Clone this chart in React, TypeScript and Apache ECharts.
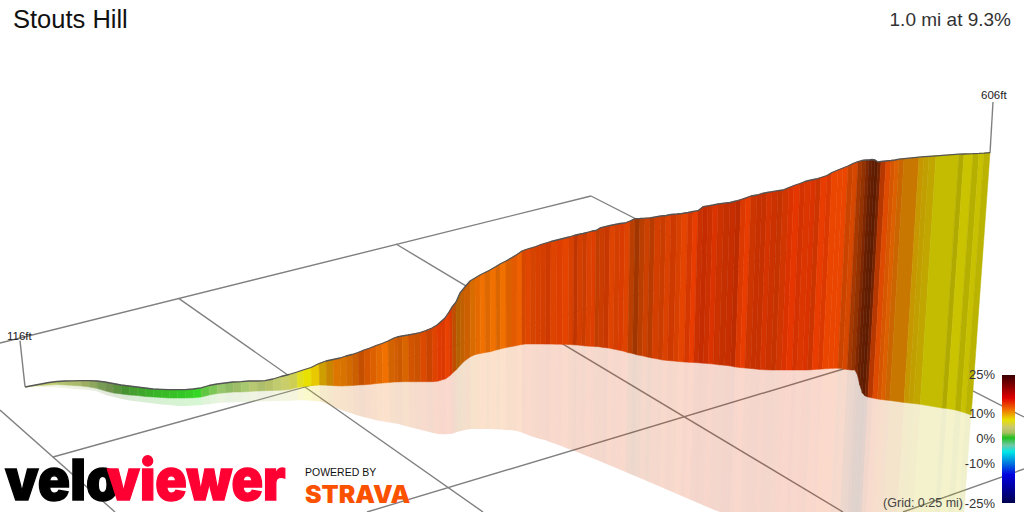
import React, { useEffect, useRef } from "react";
import * as echarts from "echarts";

const titleText = "Stouts Hill";
const summaryText = "1.0 mi at 9.3%";
const gridText = "(Grid: 0.25 mi)";
const startLabel = "116ft";
const endLabel = "606ft";
const legendLabels = ["25%", "10%", "0%", "-10%", "-25%"];

// Projected position along the climb
const stationX = [
  25,33,41,49,57,65,73,81,89,97,105,113,121,129,137,145,153,161,169,177,185,193,201,209,217,225,233,241,249,257,265,273,281,289,297,
  303,311,319,326,333,340,346,352,358,364,370,376,382,388,394,397,402,408,414,420,426,432,437,441,445,449,452,456,460,464,470,
  475,480,485,490,496,500,506,512,517,522,526,531,536,541,546,551,557,563,569,574,578,583,587,592,596,600,605,610,615,620,625,630,635,640,645,650,655,
  661,666,671,677,682,688,693,698,703,708,713,718,724,730,736,741,746,751,757,762,767,772,778,783,789,794,800,805,811,816,821,827,832,838,843,848,853,
  858,862,866,869,872,875,878,881,886,891,895,899,904,919,924,929,936,959,964,973,979,984,990,
];
const wallTop = [
  387,385.5,384,382.5,381.5,381,380.8,380.7,380.7,381,382,383.5,385,386,387,388,389,389.3,389.6,389.7,389.6,389,387.8,385.5,384,383,382,381.7,381,381,380.7,379,376.5,374.5,372,
  370,367.5,363.5,361,359.5,358,356,354.5,352.5,350,348,345.5,343.5,341,338,337,336,335,333.8,332.7,330.5,328,325,321.5,318,312,307,302,293,288,281,
  278,275,272.5,270,266.5,264,261,257.5,254.5,251,249.5,248,246.5,244.5,243,241.5,240,238.5,237,235.5,234.5,233.5,232.5,231,230.5,228,226.7,225.5,224.5,223.5,223,221,218.7,218.5,218.2,217.8,217,
  216,215.5,214.5,214,213.5,212.5,211.5,210.7,206.7,205.8,205,204,203.2,202.5,201,199.5,197.8,196,195,193.5,192.5,191.7,190.7,190,187.5,185.5,183.5,181.5,180,179,177.5,175.5,172.5,170,168,166,163.5,
  161.7,160.5,160,160,159.5,160,162,161.5,161,160.5,160,159.2,158.7,157.2,156.7,156.3,155.8,154.2,154,153.7,153.4,153.1,152.7,
];
const wallBase = [
  387,386,385.5,385,384.5,385,385.5,386,387,388.5,391,393,394,395,395.5,396.5,397,397.5,398,398,398,397.8,397,395,393.5,392.8,392,392,391.5,391,390.7,390.5,390.3,389.5,387.5,
  386.5,385.7,385,385.2,385.7,386,385.8,385.5,385,384.7,384.2,383.5,383,382.5,382,381.9,381.7,381.7,381.8,381.7,381.7,381.7,381.2,380,378.8,376,373,369.5,365,361,356.7,
  354.5,353.5,352.5,351.7,350,349,347.6,346.5,345.5,344.5,344,344,344,344,344.1,344.1,344.2,344.3,344.5,344.8,345,345.5,346,346.3,346.5,346.7,347.5,348,349,350,351,352.5,353.5,355,355.8,357,358,
  359,360,360.5,361,361.5,362,362.3,362.5,362.8,363.2,363.6,364,364.8,365.3,366,367,367.5,368,368.5,369,369.5,369.8,370,370,370,370,370,370,370,370,369.7,369.3,369,368.6,368.3,368.2,368.8,
  369.5,370,370,375,385,393,396,397,398,399,399.5,400,400.5,402.5,403,403.5,404.3,408,408.5,410,411.5,413,415,
];
const shadowEdge = [
  387,387,387,387,387.5,388,389,389.5,390,391.5,395,397,399,400.5,401.5,402.5,403.5,404.5,405,406,406,405.5,405,404,403,402.5,402.3,402,402,401.5,401.3,401,401,400.8,400.3,
  400.3,400.8,401.5,404,407,410,412,414,416,417.5,419,420.5,421.5,422.5,423.5,424,425.5,427,428.5,430,431.5,433,434,434.3,434.3,434,433.5,432,431,430,429,
  429,429,429,429,429.3,429.5,430,430.3,431,432.5,434,436,437.5,439,440,442,444,446,448.5,450,451.5,453.5,455,457,458.5,460,462,464,466,468,470,472,474,476,478,480,482,
  484.5,486.5,488.5,491,493,495.5,497.5,499.5,501.5,503.5,505.5,507.5,510,512,512,512,512,512,512,512,512,512,512,512,512,512,512,512,512,512,512,512,512,512,512,512,512,
  512,512,512,512,512,512,512,512,512,512,512,512,512,512,512,512,512,512,512,512,512,512,512,
];
// Gradient (%) of the slice that starts at each station, and its facet lighting
const sliceGrade = [
  4,3.5,3.5,3.5,3,3,3,3,2.5,2,2,1.5,1,.8,.6,.4,.3,.2,.2,.1,.1,0,1,1.5,2,2,2.5,2.5,3,3,3.5,3.5,4,4.5,5.5,
  6,7,7.5,8,9,9,9.5,10,11,11,10.5,10,10,10,10.5,10.5,10,11,11,12,12,13,14,14,13.5,14,11,9,9.5,10,9.5,
  10,10,10,10,10,10,10.5,11,11,12,12.5,12.5,13,13,13.5,13,13.5,13,13,13.5,13,13,13,13.5,12.5,13,13.5,13,13,13.5,13,12,12,12,12.5,12.5,13,
  13,13,13.5,13,13,14,14,15,15.5,15,15,14.5,14.5,15,15,14,14,14,14.5,14.5,14.5,14.5,14,14,15,15,15,14.5,15,14,14,14,13,13,13,12,12,
  12,12,13,13,13,13,13,13,12,11,10.5,9.5,8.5,7.5,7.2,7,6,6,6,6,6,6,6,
];
const sliceLight = [
  1,1,.95,.95,.92,.9,.88,.82,.8,.75,.7,.7,.7,.75,.78,.82,.85,.88,.9,.92,.95,1,.95,.95,.95,.9,.9,.95,.95,.9,.9,.95,.95,.95,1,
  1,1,.88,.85,.92,.9,.88,.85,.82,.9,.92,.95,1,.88,.88,.85,.9,.88,.85,.92,.85,.95,.97,.95,1,.95,.8,.75,.8,.85,.9,
  .95,1,.92,1,.9,1,.92,.95,1,.9,.95,.9,.92,.9,.88,.95,.95,.97,.92,.82,.9,.86,.93,.95,.82,.86,.85,.95,.9,.93,.95,.78,.68,.78,.86,.78,.9,
  .86,.93,.88,.92,.97,.92,1,.88,.86,.88,.95,.88,.85,.86,.82,.95,1,.88,.86,.86,.92,.88,.85,.9,.95,1,.92,.95,.95,.88,1,.95,1,1,1,.85,.9,
  .7,.62,.55,.45,.42,.4,.5,.78,.93,.9,.92,.84,.84,.85,.83,.83,.84,.76,.87,.78,.86,.8,.8,
];

// Floor grid lines and height stems: x1, y1, x2, y2
const floorLines = [
  [0, 343, 591, 196],
  [20, 340.7, 25, 386.7],
  [993, 102, 990, 153],
  [179, 298.6, 483, 512],
  [396, 244, 843, 512],
  [591, 196, 1024, 417],
  [0, 410, 115, 512],
  [53, 457, 866, 231],
  [367, 512, 850, 367],
  [903, 512, 1024, 469],
];

const gradeStops: [number, string][] = [
  [0, "#34d824"], [1, "#66d044"], [2, "#a0d070"], [3, "#c0d478"], [4, "#d4d870"], [5, "#dcdc40"],
  [6, "#e8e000"], [7, "#e8c800"], [8, "#ec9c00"], [9, "#f08000"], [10, "#f07000"], [12, "#ee5000"],
  [14, "#e83c00"], [16, "#e43000"], [18, "#b00000"], [25, "#300000"],
];
const legendStops: [number, string][] = [
  [0, "#3a0000"], [0.08, "#800000"], [0.18, "#e00000"], [0.27, "#f07000"], [0.35, "#e8e000"],
  [0.41, "#c8c870"], [0.45, "#a8c060"], [0.49, "#20c020"], [0.55, "#70c8a8"], [0.6, "#00e8e8"],
  [0.67, "#0090e0"], [0.78, "#0000e0"], [1, "#000050"],
];

function gradeColor(grade: number, light: number): string {
  let k = 0;
  while (k < gradeStops.length - 2 && grade > gradeStops[k + 1][0]) k++;
  const [g0, c0] = gradeStops[k];
  const [g1, c1] = gradeStops[k + 1];
  const base = echarts.color.lerp((grade - g0) / (g1 - g0), [c0, c1]) as string;
  const rgba = echarts.color.parse(base) as number[];
  return `rgb(${Math.round(rgba[0] * light)},${Math.round(rgba[1] * light)},${Math.round(rgba[2] * light)})`;
}

// Perspective lean: verticals converge slightly towards the bottom of the view.
const LEAN = 0.00015;
const CENTRE = 512;
function leanX(x: number, topY: number, y: number): number {
  return CENTRE + (x - CENTRE) * (1 - LEAN * (y - topY));
}

const FONT = '"Liberation Sans", Arial, sans-serif';
const LOGO = 'Inter, "Liberation Sans", sans-serif';

export default function App() {
  const ref = useRef<HTMLDivElement>(null);
  useEffect(() => {
    if (!ref.current) return;
    const chart = echarts.init(ref.current, undefined, { renderer: "svg" });
    const slices = stationX.map((x, i) => [x, wallTop[i], wallBase[i], shadowEdge[i]]);
    const colors = stationX.map((_, i) => gradeColor(sliceGrade[i], sliceLight[i]));

    const slice = (lowerDim: number, upperDim: number, isShadow: boolean) => (params: any, api: any) => {
      const i = params.dataIndex;
      if (i >= stationX.length - 1) return null;
      const [x0, x1] = [stationX[i], stationX[i + 1]];
      const [t0, t1] = [wallTop[i], wallTop[i + 1]];
      const up0 = slices[i][upperDim], up1 = slices[i + 1][upperDim];
      const lo0 = slices[i][lowerDim], lo1 = slices[i + 1][lowerDim];
      const points = [
        api.coord([leanX(x0, t0, up0), up0]),
        api.coord([leanX(x1, t1, up1), up1]),
        api.coord([leanX(x1, t1, lo1), lo1]),
        api.coord([leanX(x0, t0, lo0), lo0]),
      ];
      return {
        type: "polygon",
        shape: { points },
        style: isShadow
          ? { fill: colors[i], opacity: 0.2 }
          : { fill: colors[i], stroke: colors[i], lineWidth: 0.5 },
      };
    };

    const text = (t: string, x: number, y: number, size: number, align: string, fill: string, extra: any = {}) => ({
      type: "text",
      x,
      y,
      z: 100,
      silent: true,
      style: { text: t, fill, font: `${size}px ${FONT}`, textAlign: align, textVerticalAlign: "middle" },
      ...extra,
    });
    const logo = (t: string, x: number, y: number, size: number, fill: string, sx: number, sy = 1, bold = 0) => ({
      type: "text",
      x,
      y,
      scaleX: sx,
      scaleY: sy,
      silent: true,
      z: 100,
      style: {
        text: t,
        fill,
        stroke: bold ? fill : undefined,
        lineWidth: bold,
        font: `900 ${size}px ${LOGO}`,
        textAlign: "left",
        textVerticalAlign: "bottom",
      },
    });

    const legendY = [374, 413, 438, 463, 503];

    chart.setOption({
      animation: false,
      backgroundColor: "#ffffff",
      grid: { left: 0, right: 0, top: 0, bottom: 0 },
      xAxis: { type: "value", min: 0, max: 1024, show: false },
      yAxis: { type: "value", min: 0, max: 512, inverse: true, show: false },
      series: [
        {
          type: "custom",
          coordinateSystem: "cartesian2d",
          z: 1,
          silent: true,
          data: floorLines,
          encode: { x: [0, 2], y: [1, 3] },
          renderItem: (_: any, api: any) => {
            const a = api.coord([api.value(0), api.value(1)]);
            const b = api.coord([api.value(2), api.value(3)]);
            return {
              type: "line",
              shape: { x1: a[0], y1: a[1], x2: b[0], y2: b[1] },
              style: { stroke: "#808080", lineWidth: 1.4 },
            };
          },
        },
        {
          type: "custom",
          coordinateSystem: "cartesian2d",
          z: 2,
          silent: true,
          data: slices,
          encode: { x: 0, y: 3 },
          renderItem: slice(3, 2, true),
        },
        {
          type: "custom",
          coordinateSystem: "cartesian2d",
          z: 3,
          silent: true,
          data: slices,
          encode: { x: 0, y: 1 },
          renderItem: slice(2, 1, false),
        },
        {
          type: "line",
          z: 4,
          silent: true,
          showSymbol: false,
          data: stationX.map((x, i) => [x, wallTop[i]]),
          lineStyle: { color: "#555555", width: 1.3 },
        },
      ],
      graphic: {
        elements: [
          text(titleText, 13, 19, 25.5, "left", "#111111"),
          text(summaryText, 1011, 19, 19, "right", "#333333"),
          text(startLabel, 7, 336, 11.5, "left", "#222222"),
          text(endLabel, 981, 95, 11.5, "left", "#222222"),
          text(gridText, 963, 503, 12.5, "right", "#444444"),
          ...legendLabels.map((l, i) => text(l, 995, legendY[i], 13, "right", "#333333")),
          {
            type: "rect",
            silent: true,
            z: 100,
            shape: { x: 1002, y: 375, width: 13, height: 128 },
            style: {
              fill: new echarts.graphic.LinearGradient(0, 0, 0, 1,
                legendStops.map(([offset, color]) => ({ offset, color }))),
            },
          },
          logo("velo", 5, 508, 62, "#000000", 0.86, 0.92, 1.5),
          logo("viewer", 107, 508, 62, "#ff0033", 0.84, 0.92, 1.5),
          text("POWERED BY", 305, 473, 10, "left", "#111111", { scaleX: 1.05 }),
          logo("STRAVA", 305, 506, 28, "#fc5200", 0.89, 0.85),
        ],
      },
    });
    return () => chart.dispose();
  }, []);
  return <div ref={ref} style={{ position: "fixed", left: 0, top: 0, width: 1024, height: 512 }} />;
}
